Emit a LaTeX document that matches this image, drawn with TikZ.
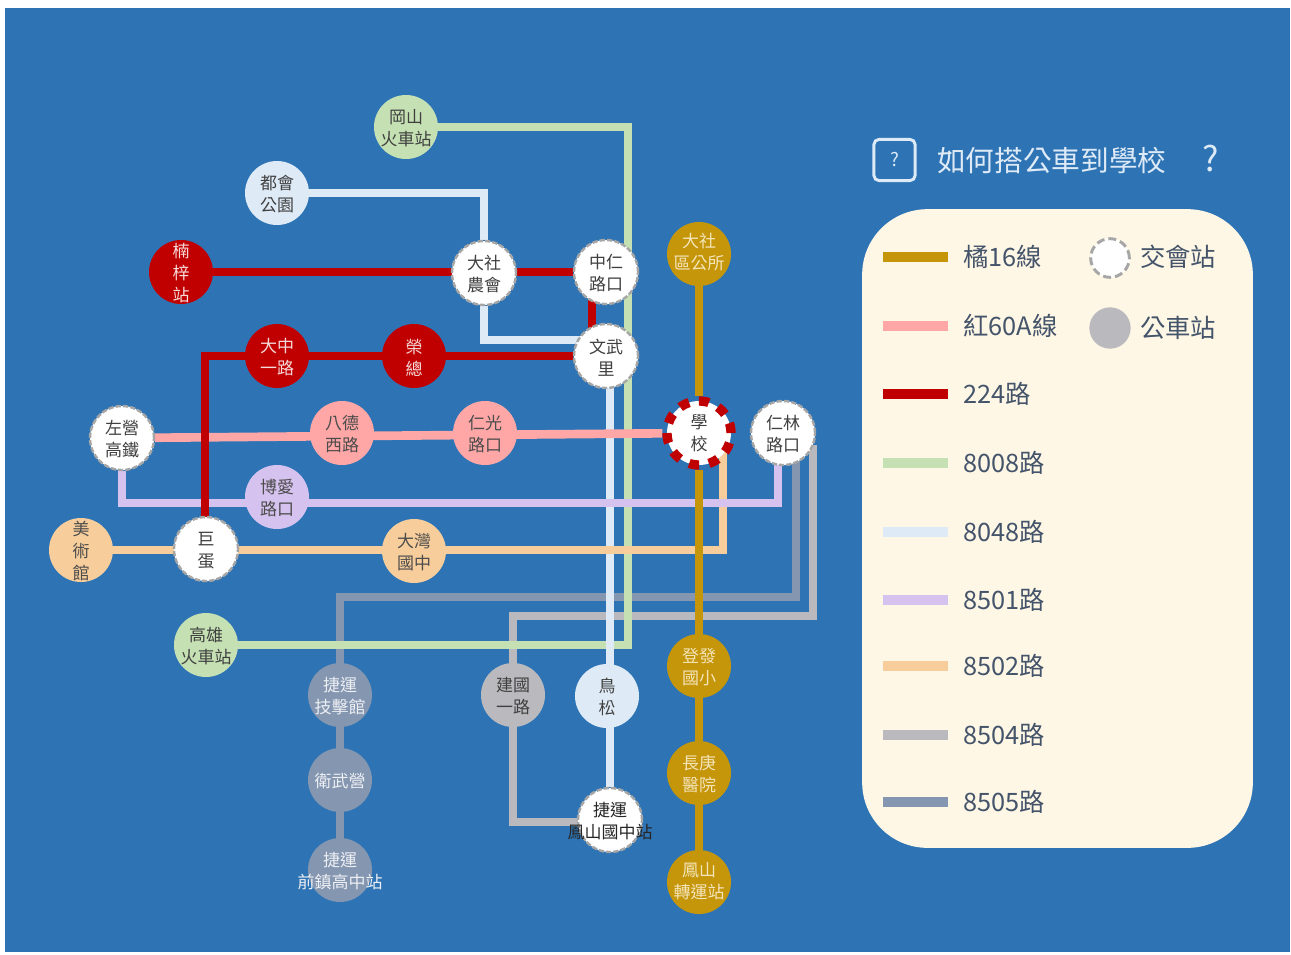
\documentclass[tikz,border=0pt]{standalone}
\usepackage{fontspec}
\setmainfont{Noto Sans CJK TC}
\pgfdeclarelayer{lines}
\pgfsetlayers{lines,main}
\definecolor{bgblue}{HTML}{2E74B5}
\definecolor{cOrange}{HTML}{C5960A}
\definecolor{cPink}{HTML}{FFA7A7}
\definecolor{cRed}{HTML}{C00000}
\definecolor{cGreen}{HTML}{C5E0B3}
\definecolor{cLight}{HTML}{DEEAF6}
\definecolor{cPurple}{HTML}{D6C2EE}
\definecolor{cPeach}{HTML}{F7CE9B}
\definecolor{cGray}{HTML}{BABABE}
\definecolor{cSlate}{HTML}{8496B0}
\definecolor{cCream}{HTML}{FFF7E6}
\definecolor{cText}{HTML}{44546A}
\definecolor{cHub}{HTML}{A6A6A6}
\tikzset{
  x=0.75pt,y=-0.75pt,
  stn/.style={circle,minimum size=48pt,inner sep=0pt},
  lab/.style={align=center,inner sep=0pt,yshift=-1pt,font=\fontsize{12.75}{16.5}\selectfont},
  hub/.style={stn,fill=white,draw=cHub,line width=1.8pt,dash pattern=on 4pt off 1.5pt},
  school/.style={stn,fill=white,draw=cRed,line width=7pt,dash pattern=on 7.54pt off 7.54pt},
  route/.style={line width=6.5pt,line join=miter},
  swatch/.style={minimum width=48.75pt,minimum height=7.5pt,inner sep=0pt},
  legtxt/.style={anchor=west,inner sep=0pt,text=cText,font=\fontsize{19}{20}\selectfont},
}
\begin{document}
\begin{tikzpicture}
\useasboundingbox (0,0) rectangle (1291,954);
\begin{pgfonlayer}{lines}
\fill[white] (0,0) rectangle (1291,954);
\fill[bgblue] (5,8) rectangle (1290,952);
\end{pgfonlayer}
% stations
\node[stn,fill=cGreen,label={[lab,text=black!75]center:岡山\\火車站}] (gangshan) at (406,127) {};
\node[stn,fill=cLight,label={[lab,text=black!75]center:都會\\公園}] (park) at (277,193) {};
\node[stn,fill=cRed,label={[lab,text=white!85!cRed]center:楠\\梓\\站}] (nanzi) at (181,272) {};
\node[hub,label={[lab,text=black!75]center:大社\\農會}] (dsnh) at (484,273) {};
\node[hub,label={[lab,text=black!75]center:中仁\\路口}] (zhongren) at (606,272) {};
\node[hub,label={[lab,text=black!75]center:文武\\里}] (wenwu) at (606,356) {};
\node[stn,fill=cRed,label={[lab,text=white!85!cRed]center:大中\\一路}] (dazhong) at (277,356) {};
\node[stn,fill=cRed,label={[lab,text=white!85!cRed]center:榮\\總}] (rongzong) at (414,356) {};
\node[stn,fill=cOrange,label={[lab,yshift=2.5pt,text=cCream!80!cOrange]center:大社\\區公所}] (dsq) at (699,254) {};
\node[hub,label={[lab,text=black!75]center:左營\\高鐵}] (zuoying) at (122,438) {};
\node[stn,fill=cPink,label={[lab,text=black!70]center:八德\\西路}] (bade) at (342,433) {};
\node[stn,fill=cPink,label={[lab,text=black!70]center:仁光\\路口}] (renguang) at (485,433) {};
\node[school,label={[lab,yshift=1pt,text=black!75]center:學\\校}] (school) at (699,433) {};
\node[hub,label={[lab,text=black!75]center:仁林\\路口}] (renlin) at (783,433) {};
\node[stn,fill=cPurple,label={[lab,text=black!70]center:博愛\\路口}] (boai) at (277,497) {};
\node[stn,fill=cPeach,label={[lab,text=black!70]center:美\\術\\館}] (museum) at (81,550) {};
\node[hub,label={[lab,text=black!75]center:巨\\蛋}] (dome) at (206,549) {};
\node[stn,fill=cPeach,label={[lab,text=black!70]center:大灣\\國中}] (dawan) at (414,551) {};
\node[stn,fill=cGreen,label={[lab,text=black!75]center:高雄\\火車站}] (kaohsiung) at (206,645) {};
\node[stn,fill=cSlate,label={[lab,text=white!85!cSlate]center:捷運\\技擊館}] (jiji) at (340,695) {};
\node[stn,fill=cSlate,label={[lab,text=white!85!cSlate]center:衛武營}] (weiwu) at (340,780) {};
\node[stn,fill=cSlate,label={[lab,text=white!85!cSlate]center:捷運\\前鎮高中站}] (qianzhen) at (340,870) {};
\node[stn,fill=cGray,label={[lab,text=black!75]center:建國\\一路}] (jianguo) at (513,695) {};
\node[stn,fill=cLight,label={[lab,text=black!75]center:鳥\\松}] (niaosong) at (607,696) {};
\node[hub,label={[lab,text=black!85]center:捷運\\鳳山國中站}] (fengshanjh) at (610,820) {};
\node[stn,fill=cOrange,label={[lab,text=cCream!80!cOrange]center:登發\\國小}] (dengfa) at (699,666) {};
\node[stn,fill=cOrange,label={[lab,text=cCream!80!cOrange]center:長庚\\醫院}] (changgung) at (699,773) {};
\node[stn,fill=cOrange,label={[lab,yshift=1.5pt,text=cCream!80!cOrange]center:鳳山\\轉運站}] (fengshan) at (699,882) {};
% bends
\coordinate (g1) at (628,127);
\coordinate (g2) at (628,645);
\coordinate (l1) at (484,193);
\coordinate (l2) at (484,340);
\coordinate (l3) at (610,340);
\coordinate (r1) at (592,272);
\coordinate (r2) at (592,356);
\coordinate (r3) at (205,356);
\coordinate (p1) at (122,503);
\coordinate (p2) at (778,503);
\coordinate (p3) at (778,440);
\coordinate (a0) at (81,550);
\coordinate (a1) at (723,550);
\coordinate (a2) at (723,445);
\coordinate (s1) at (340,597);
\coordinate (s2) at (796,597);
\coordinate (s3) at (796,445);
\coordinate (h1) at (513,616);
\coordinate (h2) at (813,616);
\coordinate (h3) at (813,445);
\coordinate (h4) at (513,822);
\begin{pgfonlayer}{lines}
\draw[route,cSlate] (qianzhen) -- (weiwu) -- (jiji) -- (s1) -- (s2) -- (s3);
\draw[route,cGray] (fengshanjh |- h4) -- (h4) -- (jianguo) -- (h1) -- (h2) -- (h3);
\draw[route,cGreen] (gangshan) -- (g1) -- (g2) -- (kaohsiung);
\draw[route,cLight] (park) -- (l1) -- (dsnh) -- (l2) -- (l3) -- (fengshanjh);
\draw[route,cPeach] (museum |- a0) -- (a1) -- (a2);
\draw[route,cPurple] (zuoying) -- (p1) -- (p2) -- (p3);
\draw[route,cPink] (zuoying) -- (school);
\draw[route,cRed] (nanzi) -- (zhongren);
\draw[route,cRed] (r1) -- (r2);
\draw[route,cRed] (wenwu) -- (rongzong) -- (dazhong) -- (r3) -- (dome -| r3);
\draw[route,cOrange] (dsq) -- (school) -- (dengfa) -- (changgung) -- (fengshan);
\end{pgfonlayer}
% title
\node[draw=cLight,line width=2.2pt,rounded corners=4pt,minimum size=31pt,inner sep=0pt,text=cLight,font=\fontsize{14}{16}\selectfont] (qbox) at (894.5,160) {?};
\node[anchor=west,inner sep=0pt,text=cLight,font=\fontsize{21.5}{24}\selectfont] (title) at (937,159) {如何搭公車到學校\hspace{27pt}{\fontsize{26}{28}\selectfont ?}};
% legend
\node[fill=cCream,draw=none,rounded corners=49pt,minimum width=293pt,minimum height=479pt,inner sep=0pt] (panel) at (1057.5,528.5) {};
\node[swatch,fill=cOrange] (k1) at (915.5,257) {};
\node[swatch,fill=cPink] (k2) at (915.5,326) {};
\node[swatch,fill=cRed] (k3) at (915.5,394) {};
\node[swatch,fill=cGreen] (k4) at (915.5,463) {};
\node[swatch,fill=cLight] (k5) at (915.5,532) {};
\node[swatch,fill=cPurple] (k6) at (915.5,600) {};
\node[swatch,fill=cPeach] (k7) at (915.5,666) {};
\node[swatch,fill=cGray] (k8) at (915.5,735) {};
\node[swatch,fill=cSlate] (k9) at (915.5,802) {};
\node[legtxt] (t1) at (963,257) {橘16線};
\node[legtxt] (t2) at (963,326) {紅60A線};
\node[legtxt] (t3) at (963,394) {224路};
\node[legtxt] (t4) at (963,463) {8008路};
\node[legtxt] (t5) at (963,532) {8048路};
\node[legtxt] (t6) at (963,600) {8501路};
\node[legtxt] (t7) at (963,666) {8502路};
\node[legtxt] (t8) at (963,735) {8504路};
\node[legtxt] (t9) at (963,802) {8505路};
\node[circle,minimum size=29pt,inner sep=0pt,fill=white,draw=cHub,line width=2.2pt,dash pattern=on 6pt off 3pt] (hubkey) at (1110,258) {};
\node[circle,minimum size=31pt,inner sep=0pt,fill=cGray] (stopkey) at (1110,328) {};
\node[legtxt] (t10) at (1140,257) {交會站};
\node[legtxt] (t11) at (1140,328) {公車站};
\end{tikzpicture}
\end{document}
